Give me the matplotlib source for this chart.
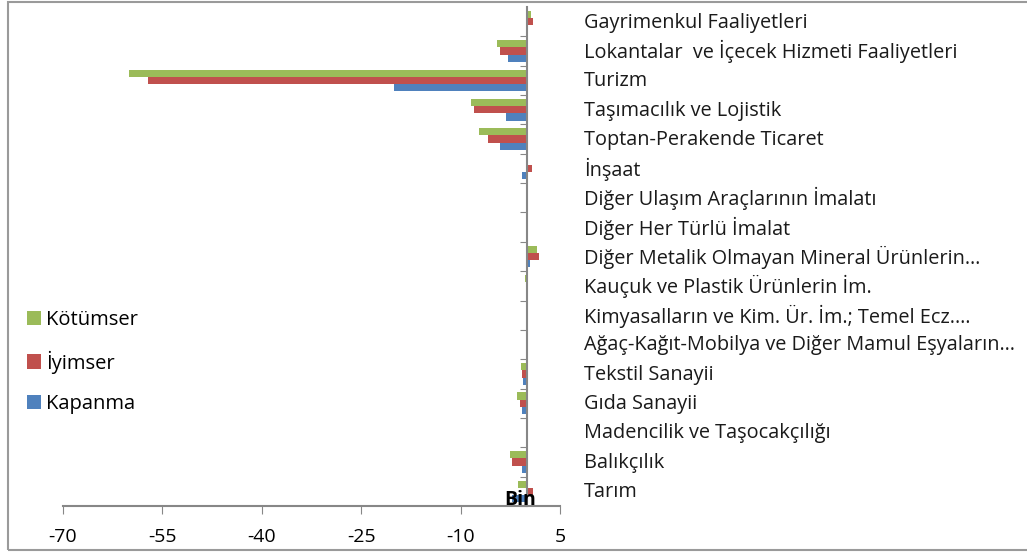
import matplotlib.pyplot as plt
import matplotlib.transforms as mtransforms
import numpy as np
from matplotlib.patches import Rectangle

plt.rcParams['font.family'] = ['Open Sans', 'DejaVu Sans']

# categories bottom -> top
sectors = ["Tarım", "Balıkçılık", "Madencilik ve Taşocakçılığı", "Gıda Sanayii",
           "Tekstil Sanayii", "Ağaç-Kağıt-Mobilya ve Diğer Mamul Eşyaların…",
           "Kimyasalların ve Kim. Ür. İm.; Temel Ecz.…", "Kauçuk ve Plastik Ürünlerin İm.",
           "Diğer Metalik Olmayan Mineral Ürünlerin…", "Diğer Her Türlü İmalat",
           "Diğer Ulaşım Araçlarının İmalatı", "İnşaat", "Toptan-Perakende Ticaret",
           "Taşımacılık ve Lojistik", "Turizm", "Lokantalar  ve İçecek Hizmeti Faaliyetleri",
           "Gayrimenkul Faaliyetleri"]
kapanma = [-2.3, -0.7, 0.0, -0.8, -0.6, -0.1, 0.0, -0.1, 0.5, 0.0, 0.0, -0.8, -4.0, -3.2, -20.1, -2.9, 0.0]
iyimser = [0.9, -2.2, -0.1, -1.1, -0.7, -0.1, -0.05, -0.2, 1.9, -0.05, -0.1, 0.7, -5.9, -8.0, -57.1, -4.1, 0.9]
kotumser = [-1.4, -2.5, -0.1, -1.5, -0.9, -0.2, -0.05, -0.3, 1.6, -0.05, -0.2, 0.0, -7.2, -8.5, -60.0, -4.5, 0.6]
xticks = [-70, -55, -40, -25, -10, 5]

W, H = 1027, 555
fig = plt.figure(figsize=(W / 100, H / 100), dpi=100)
ax = fig.add_axes([63 / W, 1 - 506 / H, (560 - 63) / W, (506 - 7) / H])

y = np.arange(len(sectors))
h = 0.245
ax.barh(y - h, kapanma, height=h, color="#4F81BD", label="Kapanma")
ax.barh(y, iyimser, height=h, color="#C0504D", label="İyimser")
ax.barh(y + h, kotumser, height=h, color="#9BBB59", label="Kötümser")

ax.set_xlim(-70, 5)
ax.set_ylim(-0.5, len(sectors) - 0.5)
ax.set_xticks(xticks)
ax.set_xticklabels([str(t) for t in xticks], fontsize=14)
ax.set_yticks(np.arange(len(sectors)) - 0.5)
ax.set_yticklabels([])
ax.tick_params(axis='x', direction='out', length=6, color="#878787", pad=10)
ax.tick_params(axis='y', direction='out', length=5, color="#878787")

for s in ['top', 'right']:
    ax.spines[s].set_visible(False)
ax.spines['left'].set_position(('data', 0))
ax.spines['left'].set_color("#878787")
ax.spines['left'].set_linewidth(1.5)
ax.spines['bottom'].set_color("#878787")
ax.spines['bottom'].set_linewidth(1.5)

# category labels to the right of the plot
trans = mtransforms.blended_transform_factory(fig.transFigure, ax.transData)
for i, name in enumerate(sectors):
    ax.text(584 / W, i - 0.03, name, transform=trans, ha='left', va='center',
            fontsize=14.3, color="#1a1a1a", clip_on=False)

ax.text(-1, -0.3, "Bin", fontsize=14, fontweight='bold', ha='center', va='center')

handles, labels = ax.get_legend_handles_labels()
leg = fig.legend(handles[::-1], labels[::-1], loc='center left',
                 bbox_to_anchor=(9 / W, 1 - 362 / H), frameon=False, fontsize=14.5,
                 handlelength=0.7, handleheight=0.7, handletextpad=0.25, labelspacing=1.0)

fig.patches.append(Rectangle((8 / W, 1 - 550 / H), 1.0, 548 / H, transform=fig.transFigure,
                             fill=False, edgecolor="#9a9a9a", linewidth=1.5))

fig.savefig("out.png", dpi=100)
